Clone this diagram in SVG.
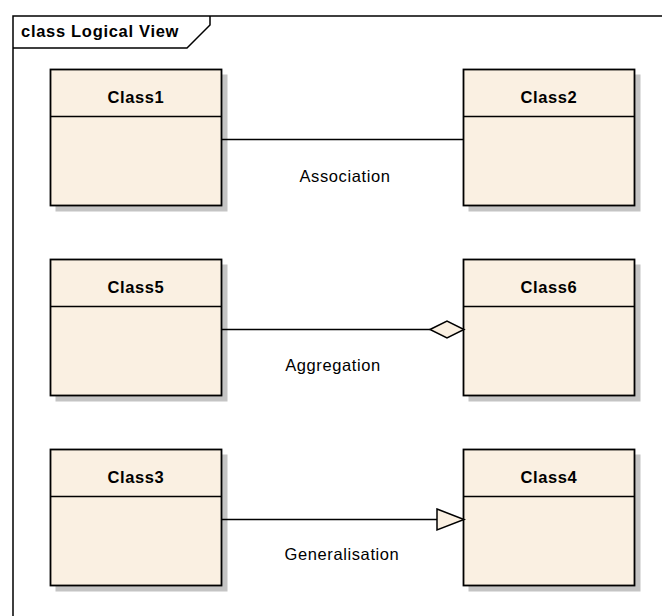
<svg xmlns="http://www.w3.org/2000/svg" width="662" height="616" viewBox="0 0 662 616">
  <style>
    .frame { fill: none; stroke: #000; stroke-width: 1.5; }
    .shadow { fill: #c4c4c4; stroke: none; }
    .box { fill: #faf0e2; stroke: #000; stroke-width: 1.8; }
    .div { stroke: #000; stroke-width: 1.5; }
    .name { font-family: "Liberation Sans", Arial, sans-serif; font-weight: bold; font-size: 16.5px; letter-spacing: 0.6px; text-anchor: middle; fill: #000; }
    .title { font-family: "Liberation Sans", Arial, sans-serif; font-weight: bold; font-size: 16.5px; letter-spacing: 0.7px; fill: #000; }
    .lbl { font-family: "Liberation Sans", Arial, sans-serif; font-size: 16.5px; letter-spacing: 0.6px; text-anchor: middle; fill: #000; }
    .edge { fill: none; stroke: #000; stroke-width: 1.5; }
    .head { fill: #faf0e2; stroke: #000; stroke-width: 1.5; }
  </style>

  <!-- diagram frame with name tab -->
  <g id="frame">
    <path class="frame" d="M13,616 V16 H662"/>
    <path class="frame" d="M13,48 H187 L210,25 V16"/>
    <text class="title" x="21" y="37">class Logical View</text>
  </g>

  <!-- classes -->
  <g id="Class1">
    <rect class="shadow" x="55.5" y="74.5" width="172" height="137"/>
    <rect class="box" x="50.5" y="69.5" width="171" height="136"/>
    <line class="div" x1="50.5" y1="116.5" x2="221.5" y2="116.5"/>
    <text class="name" x="136" y="103">Class1</text>
  </g>
  <g id="Class2">
    <rect class="shadow" x="468.5" y="74.5" width="172" height="137"/>
    <rect class="box" x="463.5" y="69.5" width="171" height="136"/>
    <line class="div" x1="463.5" y1="116.5" x2="634.5" y2="116.5"/>
    <text class="name" x="549" y="103">Class2</text>
  </g>
  <g id="Class5">
    <rect class="shadow" x="55.5" y="264.5" width="172" height="137"/>
    <rect class="box" x="50.5" y="259.5" width="171" height="136"/>
    <line class="div" x1="50.5" y1="306.5" x2="221.5" y2="306.5"/>
    <text class="name" x="136" y="293">Class5</text>
  </g>
  <g id="Class6">
    <rect class="shadow" x="468.5" y="264.5" width="172" height="137"/>
    <rect class="box" x="463.5" y="259.5" width="171" height="136"/>
    <line class="div" x1="463.5" y1="306.5" x2="634.5" y2="306.5"/>
    <text class="name" x="549" y="293">Class6</text>
  </g>
  <g id="Class3">
    <rect class="shadow" x="55.5" y="454.5" width="172" height="137"/>
    <rect class="box" x="50.5" y="449.5" width="171" height="136"/>
    <line class="div" x1="50.5" y1="496.5" x2="221.5" y2="496.5"/>
    <text class="name" x="136" y="483">Class3</text>
  </g>
  <g id="Class4">
    <rect class="shadow" x="468.5" y="454.5" width="172" height="137"/>
    <rect class="box" x="463.5" y="449.5" width="171" height="136"/>
    <line class="div" x1="463.5" y1="496.5" x2="634.5" y2="496.5"/>
    <text class="name" x="549" y="483">Class4</text>
  </g>

  <!-- relationships -->
  <g id="connectors">
    <line class="edge" x1="222" y1="139.5" x2="463" y2="139.5"/>
    <text class="lbl" x="345" y="182">Association</text>

    <line class="edge" x1="222" y1="329.5" x2="430" y2="329.5"/>
    <polygon class="head" points="430,329.5 447,321 464,329.5 447,338"/>
    <text class="lbl" x="333" y="371">Aggregation</text>

    <line class="edge" x1="222" y1="519.5" x2="437" y2="519.5"/>
    <polygon class="head" points="437,509 464,519.5 437,530"/>
    <text class="lbl" x="342" y="560">Generalisation</text>
  </g>
</svg>
